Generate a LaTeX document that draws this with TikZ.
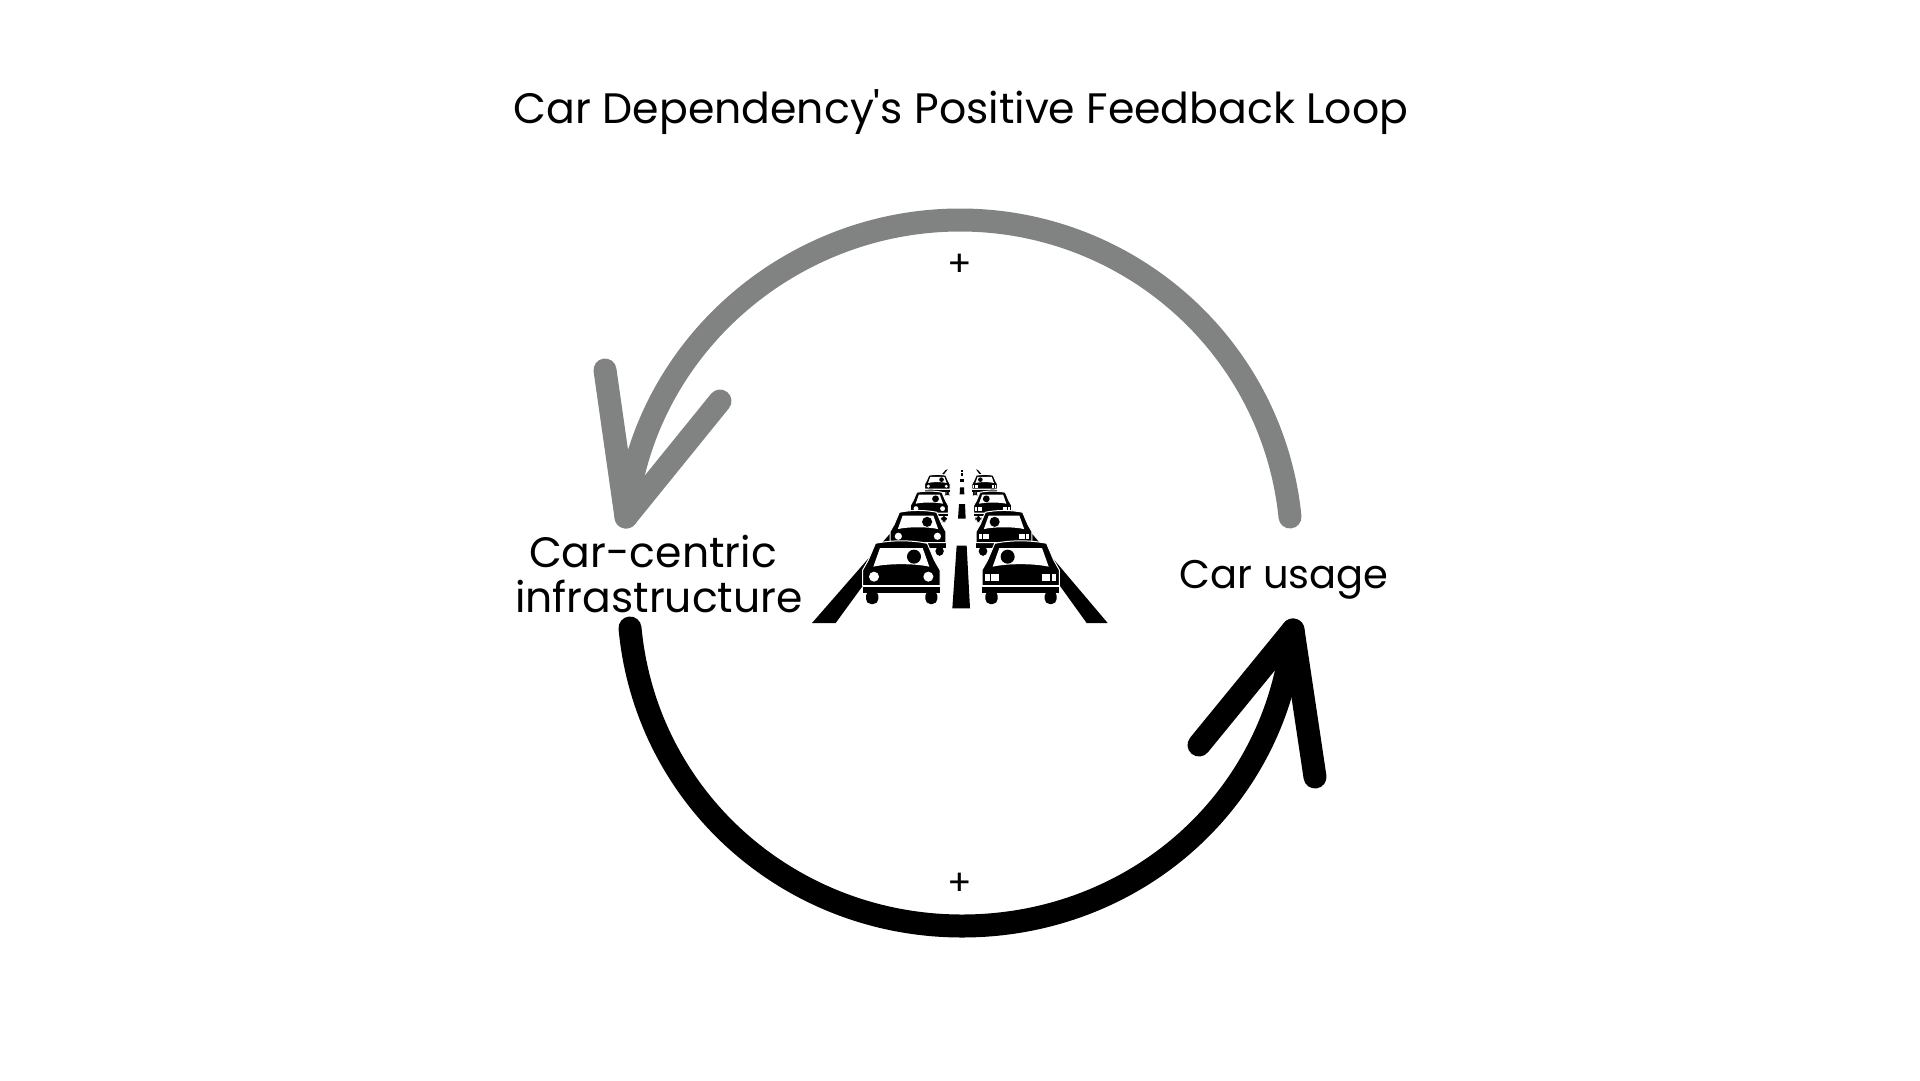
\documentclass[tikz,border=0pt]{standalone}
\usepackage{fontspec}
\setmainfont{Poppins}
\definecolor{loopgray}{HTML}{818382}
\tikzset{%
	loop line/.style={
		line width=23pt,
		line cap=round,
		line join=round
	},
	big label/.style={
		anchor=base,
		font=\fontsize{42.5}{45}\selectfont
	},
	carshell/.pic={
		\fill[rounded corners=5pt] (-106,150) rectangle (-69,190);
		\fill[rounded corners=5pt] (72,150) rectangle (108,190);
		\fill (-116,138) rectangle (116,156);
		\filldraw[draw=white, line width=1pt] (-116,135) -- (-116,88) -- (-99,58) -- (-82,18) -- (-78,8)
			.. controls (-30,-2) and (30,-2) .. (78,8) -- (82,18) -- (99,58) -- (116,88) -- (116,135) -- cycle;
		\fill[white] (-84,78) -- (-64,22) -- (64,22) -- (84,78) .. controls (40,68) and (-40,68) .. cycle;
	},
	lampcar/.pic={
		\pic[transform shape] {carshell};
		\fill (38,48) circle (21);
		\fill[white] (-82,108) circle (15);
		\fill[white] (81,108) circle (15);
	},
	boxcar/.pic={
		\pic[transform shape] {carshell};
		\fill (-39,48) circle (21);
		\fill[white] (-106,99) rectangle (-93,121);
		\fill[white] (-89,99) rectangle (-64,121);
		\fill[white] (64,99) rectangle (89,121);
		\fill[white] (93,99) rectangle (106,121);
	},
}

\begin{document}
\begin{tikzpicture}[x=1pt, y=-1pt]
	\useasboundingbox (0,0) rectangle (1920,1080);

	% Title and the two labels
	\node[big label, font=\fontsize{42.6}{46}\selectfont] (title) at (961,123) {Car Dependency\textquotesingle s Positive Feedback Loop};
	\node[big label] (centric) at (653,567) {Car-centric};
	\node[big label] (infra) at (659,612) {infrastructure};
	\node[big label, font=\fontsize{40}{45}\selectfont] (usage) at (1284,588) {Car usage};

	% Ends of the gray loop
	\coordinate (graystart) at (1290,517);
	\coordinate (graytop) at (960,220);
	\coordinate (graytip) at (626,517);
	\coordinate (graybarbl) at (605,370);
	\coordinate (graybarbr) at (720,401);

	% Ends of the black loop
	\coordinate (blackstart) at (630,628);
	\coordinate (blackbottom) at (962,926);
	\coordinate (blacktip) at (1293,630);
	\coordinate (blackbarbl) at (1199,745);
	\coordinate (blackbarbr) at (1315,777);

	% Draw the gray arrow
	\draw[loop line, loopgray] (graystart) .. controls (1273,348) and (1130,220) .. (graytop)
		.. controls (790,220) and (643,348) .. (graytip);
	\draw[loop line, loopgray] (graybarbl) -- (graytip) -- (graybarbr);

	% Draw the black arrow
	\draw[loop line] (blackstart) .. controls (646,799) and (790,926) .. (blackbottom)
		.. controls (1134,926) and (1277,801) .. (blacktip);
	\draw[loop line] (blackbarbl) -- (blacktip) -- (blackbarbr);

	% Plus signs
	\node[font=\fontsize{36}{36}\selectfont] (plustop) at (960,265.5) {+};
	\node[font=\fontsize{36}{36}\selectfont] (plusbottom) at (960,884.5) {+};

	% Road and cars
	\begin{scope}[shift={(800,450)}, scale=1/3]
		\fill (36,519) -- (107,519) -- (443,58) -- (437,60) -- cycle;
		\fill (923,519) -- (860,519) -- (528,58) -- (534,60) -- cycle;
		\fill (470,287) -- (500,287) -- (510,475) -- (457,475) -- cycle;
		\fill (477,162) -- (495,162) -- (497,206) -- (474,206) -- cycle;
		\fill (480,112) -- (492,112) -- (493,133) -- (479,133) -- cycle;
		\fill (481,86) rectangle (491,97);
		\fill (483,70) rectangle (490,77);
		\fill (483,60) rectangle (490,65);
		\foreach \cx/\cy/\cs in {412/73/.33, 388/123/.49, 354/181/.72, 304/272/1}
			\pic[transform shape, scale=\cs] at (\cx,\cy) {lampcar};
		\foreach \cx/\cy/\cs in {554/73/.33, 578/123/.49, 612/181/.72, 662/272/1}
			\pic[transform shape, scale=\cs] at (\cx,\cy) {boxcar};
	\end{scope}
\end{tikzpicture}
\end{document}
